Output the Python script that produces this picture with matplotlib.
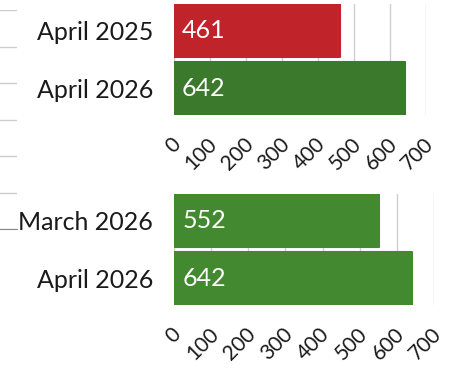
import matplotlib
matplotlib.use('Agg')
import matplotlib.pyplot as plt
import matplotlib.transforms as mtrans

plt.rcParams['font.family'] = ['Lato', 'DejaVu Sans']

# year over year comparison
top_labels = ['April 2025', 'April 2026']
top_values = [461, 642]
top_colors = ['#c0232a', '#3b7a2d']

# month over month comparison
bottom_labels = ['March 2026', 'April 2026']
bottom_values = [552, 642]
bottom_colors = ['#43892f', '#43892f']

xticks = [0, 100, 200, 300, 400, 500, 600, 700]

W, H = 458, 371
fig = plt.figure(figsize=(W / 100, H / 100), dpi=100)


def px_axes(x0, y0, x1, y1):
    return fig.add_axes([x0 / W, 1 - y1 / H, (x1 - x0) / W, (y1 - y0) / H])


# leftover grid strip on the far left
ax0 = px_axes(-20, 10, 17, 229)
ax0.set_ylim(0, 6)
ax0.set_yticks(range(7))
ax0.set_xticks([])
ax0.tick_params(length=0, labelleft=False)
ax0.grid(axis='y', color='#cccccc', linewidth=1)
for s in ['top', 'right', 'left']:
    ax0.spines[s].set_visible(False)
ax0.spines['bottom'].set_color('#888888')
ax0.patch.set_alpha(0)


def draw_panel(ax, labels, values, colors):
    ax.barh(labels, values, height=0.91, color=colors, edgecolor=colors,
            linewidth=1.5, joinstyle='round', zorder=2)
    ax.set_ylim(1.455, -0.455)
    ax.set_xlim(0, 700)
    ax.set_xticks(xticks)
    ax.grid(axis='x', color='#cfcfcf', linewidth=1, zorder=0)
    ax.set_axisbelow(True)
    for s in ax.spines.values():
        s.set_visible(False)
    ax.tick_params(length=0)
    ax.tick_params(axis='y', pad=15, labelsize=18, labelcolor='#1a1a1a')
    ax.tick_params(axis='x', pad=19, labelsize=15, labelcolor='#1a1a1a')
    shift = mtrans.ScaledTranslation(3 / 72, 0, fig.dpi_scale_trans)
    for t in ax.get_xticklabels():
        t.set_rotation(45)
        t.set_rotation_mode('anchor')
        t.set_ha('right')
        t.set_va('center')
        t.set_transform(t.get_transform() + shift)
    for i, v in enumerate(values):
        ax.text(22, i, str(v), color='white', fontsize=18, va='center',
                ha='left', zorder=3)


ax1 = px_axes(174, 4, 426, 115)
draw_panel(ax1, top_labels, top_values, top_colors)

ax2 = px_axes(174, 194, 434, 305)
draw_panel(ax2, bottom_labels, bottom_values, bottom_colors)

fig.savefig('out.png', dpi=100)
